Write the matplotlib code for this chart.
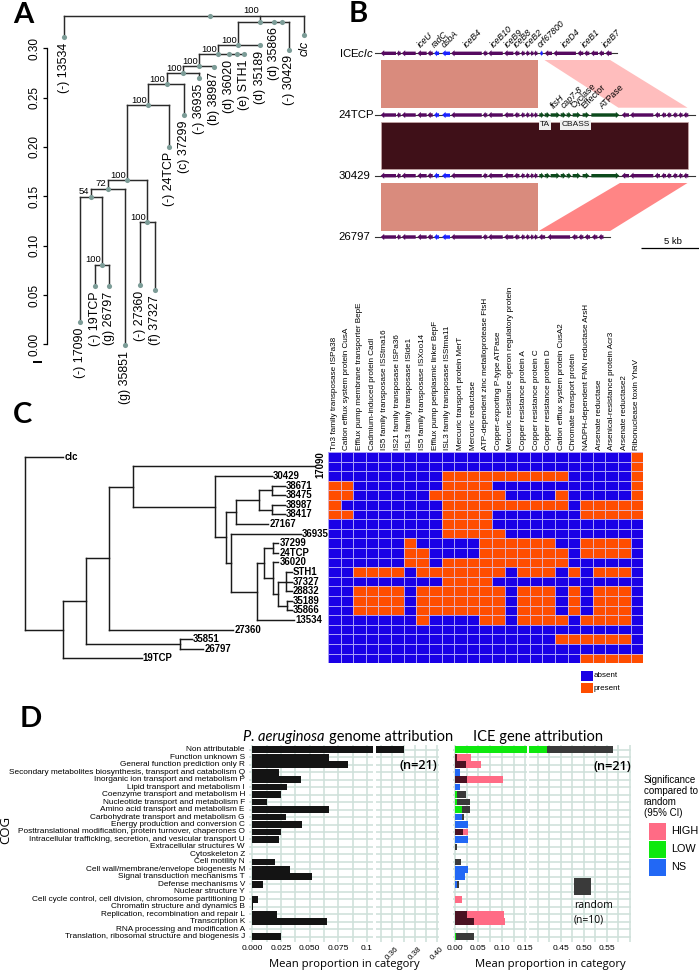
import matplotlib
matplotlib.use("Agg")
import matplotlib.pyplot as plt
from matplotlib.patches import FancyArrow, Polygon, Rectangle
from matplotlib.colors import ListedColormap
import numpy as np

plt.rcParams['font.family'] = ['Liberation Sans', 'DejaVu Sans']
plt.rcParams['mathtext.fontset'] = 'custom'
plt.rcParams['mathtext.rm'] = 'Liberation Sans'
plt.rcParams['mathtext.it'] = 'Liberation Sans:italic'
W, H = 699, 971
fig = plt.figure(figsize=(W / 100, H / 100), dpi=100, facecolor='white')


def box(x0, y0, x1, y1, **kw):
    a = fig.add_axes([x0 / W, 1 - y1 / H, (x1 - x0) / W, (y1 - y0) / H], **kw)
    a.patch.set_alpha(0)
    return a


# ---------------- DATA: panel A tree (x position, height, support, children / label)
TREE_A = (209.7, .333, None, [
    (64.3, .3111, '(-) 13534'),
    (260.0, .3266, '100', [
        (238.3, .3033, '100', [
            (218.3, .2938, '100', [
                (199.0, .2821, '100', [
                    (183.3, .2750, '100', [
                        (166.7, .2635, '100', [
                            (148.3, .2425, '100', [
                                (127.3, .1665, '100', [
                                    (108.0, .1577, '72', [
                                        (91.0, .1496, '54', [
                                            (79.7, .0226, '(-) 17090'),
                                            (102.0, .0807, '100', [
                                                (94.7, .0590, '(-) 19TCP'),
                                                (109.3, .0590, '(g) 26797')]),
                                        ]),
                                        (124.7, -.0007, '(g) 35851'),
                                    ]),
                                    (147.3, .1239, '100', [
                                        (139.7, .0599, '(-) 27360'),
                                        (154.7, .0551, '(f) 37327')]),
                                ]),
                                (169.3, .2003, '(-) 24TCP'),
                            ]),
                            (184.3, .2323, '(c) 37299'),
                        ]),
                        (199.3, .2700, '(-) 36935'),
                    ]),
                    (214.3, .2815, '(b) 38987'),
                ]),
                (229.3, .2938, '(d) 36020'),
                (237.0, .2938, ''),
                (244.3, .2938, '(e) STH1'),
            ]),
            (260.0, .3030, '(d) 35189'),
        ]),
        (274.0, .3266, '(d) 35866'),
        (282.0, .3266, ''),
        (289.3, .2986, '(-) 30429'),
    ]),
    (304.3, .3135, 'clc'),
])
A_ticks = [0.00, 0.05, 0.10, 0.15, 0.20, 0.25, 0.30]

# ---------------- DATA: panel B (kb)
B_rows = ['ICEclc', '24TCP', '30429', '26797']
core_start = [0, 1.37, 1.8, 3.14, 4.0, 4.57, 5.26, 6.03, 8.74, 9.2, 10.57, 11.43, 12.0, 12.4, 12.8, 13.11]
core_end = [1.31, 1.71, 3.0, 3.94, 4.46, 5.0, 5.94, 8.66, 9.14, 10.46, 11.37, 11.89, 12.34, 12.74, 13.09, 13.43]
core_blue = [5, 6]
ice_tail_start = [13.65, 14.05, 14.79, 16.85, 17.42, 17.99, 18.68, 19.25]
ice_tail_end = [13.88, 14.68, 16.73, 17.36, 17.88, 18.62, 19.13, 19.79]
ice_tail_blue = [0]
green_start = [13.59, 14.05, 14.56, 15.42, 15.93, 16.45, 17.3, 18.05]
green_end = [13.99, 14.5, 15.36, 15.88, 16.33, 17.13, 17.88, 20.45]
tcp_tail_start = [20.65, 21.36, 23.48, 24.05, 24.5, 25.02, 25.5, 25.93]
tcp_tail_end = [21.28, 23.36, 23.93, 24.45, 24.9, 25.42, 25.87, 26.36]
r26_tail_start = [13.54, 14.29, 16.37, 16.94, 17.46, 18.09, 18.66]
r26_tail_end = [14.09, 16.23, 16.86, 17.37, 17.94, 18.57, 19.09]
B_line_end = [20.25, 26.93, 26.93, 19.66]
ice_names = ['iceU', 'radC', 'dsbA', 'iceB4', 'iceB10', 'iceB9', 'iceB8', 'iceB2', 'orf67800', 'iceD4', 'iceB1', 'iceB7']
ice_name_kb = [3.6, 4.8, 5.6, 7.5, 9.8, 11.0, 11.75, 12.7, 13.8, 15.9, 17.6, 19.45]
tcp_names = ['ftsH', 'cap7-8', 'Cyclase', 'Effector', 'ATPase']
tcp_name_kb = [14.95, 15.85, 16.7, 17.6, 19.15]
tcp_italic = [True, True, False, False, False]

# ---------------- DATA: panel C
TREE_C = (25.0, [
    (63.3, 0, 'clc'),
    (62.7, [
        (85.7, [
            (109.0, [
                (133.3, [
                    (315.0, 1, '17090'),
                    (215.0, [
                        (271.7, 2, '30429'),
                        (225.7, [
                            (235.7, [
                                (259.3, [
                                    (272.0, [(285.0, 3, '38671'), (285.0, 4, '38475')]),
                                    (272.0, [(285.0, 5, '38987'), (285.0, 6, '38417')]),
                                ]),
                                (268.3, 7, '27167'),
                            ]),
                            (230.7, [
                                (301.0, 8, '36935'),
                                (257.3, [
                                    (264.0, [
                                        (273.3, [(278.3, 9, '37299'), (278.3, 10, '24TCP')]),
                                        (273.3, [
                                            (278.3, 11, '36020'),
                                            (278.3, [
                                                (286.0, [(291.7, 12, 'STH1'), (291.7, 13, '37327'), (291.7, 14, '28832')]),
                                                (286.7, [(291.7, 15, '35189'), (291.7, 16, '35866')]),
                                            ]),
                                        ]),
                                    ]),
                                    (294.0, 17, '13534'),
                                ]),
                            ]),
                        ]),
                    ]),
                ]),
                (233.3, 18, '27360'),
            ]),
            (180.0, [(191.7, 19, '35851'), (203.3, 20, '26797')]),
        ]),
        (141.7, 21, '19TCP'),
    ]),
])
heat_genes = ['Tn3 family transposase ISPa38', 'Cation efflux system protein CusA',
              'Efflux pump membrane transporter BepE', 'Cadmium-induced protein CadI',
              'IS5 family transposase ISStma16', 'IS21 family transposase ISPa36',
              'ISL3 family transposase ISlde1', 'IS5 family transposase ISXoo14',
              'Efflux pump periplasmic linker BepF', 'ISL3 family transposase ISStma11',
              'Mercuric transport protein MerT', 'Mercuric reductase',
              'ATP-dependent zinc metalloprotease FtsH', 'Copper-exporting P-type ATPase',
              'Mercuric resistance operon regulatory protein', 'Copper resistance protein A',
              'Copper resistance protein C', 'Copper resistance protein D',
              'Cation efflux system protein CusA2', 'Chromate transport protein',
              'NADPH-dependent FMN reductase ArsH', 'Arsenate reductase',
              'Arsenical-resistance protein Acr3', 'Arsenate reductase2', 'Ribonuclease toxin YhaV']
heat_rows = [
    "0000000000000000000000001",
    "0000000000000000000000001",
    "0000000001111111111000001",
    "1100000001111000000000001",
    "1100000011111100001000001",
    "1000000001111111111011111",
    "1100000001111000000011111",
    "0000000001111000000000000",
    "0000000001111100000000000",
    "0000001000001111110011110",
    "0000001100001111111011110",
    "0000001101111111111000000",
    "0011110111111101110101110",
    "0000000001111000000000000",
    "0011110111111101110101110",
    "0011110111111101110101110",
    "0011110111111101110101110",
    "0000000100001101111011110",
    "0000000000000000000000000",
    "0000000000000000001111110",
    "0000000000000000000000000",
    "0000000000000000000011111",
]

# ---------------- DATA: panel D
cog_labels = ['Non attributable', 'Function unknown S', 'General function prediction only R',
              'Secondary metabolites biosynthesis, transport and catabolism Q',
              'Inorganic ion transport and metabolism P', 'Lipid transport and metabolism I',
              'Coenzyme transport and metabolism H', 'Nucleotide transport and metabolism F',
              'Amino acid transport and metabolism E', 'Carbohydrate transport and metabolism G',
              'Energy production and conversion C', 'Posttranslational modification, protein turnover, chaperones O',
              'Intracellular trafficking, secretion, and vesicular transport U', 'Extracellular structures W',
              'Cytoskeleton Z', 'Cell motility N', 'Cell wall/membrane/envelope biogenesis M',
              'Signal transduction mechanisms T', 'Defense mechanisms V', 'Nuclear structure Y',
              'Cell cycle control, cell division, chromosome partitioning D', 'Chromatin structure and dynamics B',
              'Replication, recombination and repair L', 'Transcription K', 'RNA processing and modification A',
              'Translation, ribosomal structure and biogenesis J']
genome_vals = [.37, .0672, .0837, .0235, .0424, .0305, .025, .0131, .0672, .0294, .0436, .025, .0235,
               0, 0, .0195, .0326, .0523, .0096, 0, .0047, .0003, .0218, .0648, 0, .025]
ice_obs = [.4194, .0343, .0557, .0107, .1021, .01, .0036, .0043, .015, .015, .0286, .0271, .0271,
           .0005, 0, .0005, .0286, .0221, .0043, 0, .015, 0, .1043, .1071, .0005, .0021]
ice_rand = [.5643, .0036, .0229, 0, .025, 0, .0236, .0321, .0321, .0186, 0, .0179, 0,
            .0043, 0, .012, 0, 0, .0086, 0, 0, 0, .0257, .04, 0, .0407]
ice_sig = ['LOW', 'HIGH', 'HIGH', 'NS', 'HIGH', 'NS', 'LOW', 'LOW', 'LOW', 'NS', 'NS', 'HIGH', 'NS',
           'NS', 'NS', 'NS', 'NS', 'NS', 'NS', 'NS', 'HIGH', 'NS', 'HIGH', 'HIGH', 'NS', 'LOW']
sig_colors = {'HIGH': '#ff6b85', 'LOW': '#0ee90e', 'NS': '#2268f5'}

# ---------------- overlay in pixels
ov = box(0, 0, W, H)
ov.set_xlim(0, W)
ov.set_ylim(H, 0)
ov.axis('off')
for s, x, y in [('A', 13, 23), ('B', 349, 22), ('C', 13, 423), ('D', 20, 727)]:
    ov.text(x, y, s, fontsize=21, fontweight='bold', family='Lato', ha='left', va='baseline')
ov.plot([32.5, 42], [362, 362], color='black', lw=1.4, solid_capstyle='butt')

# ---------------- panel A
axA = box(0, 0, 330, 400)
axA.set_xlim(0, 330)
axA.set_ylim((344.3 - 400) / 986.7, 344.3 / 986.7)
for s in ('top', 'right', 'bottom'):
    axA.spines[s].set_visible(False)
axA.spines['left'].set_position(('data', 47.3))
axA.spines['left'].set_bounds(0, .30)
axA.spines['left'].set_linewidth(0.9)
axA.set_xticks([])
axA.set_yticks(A_ticks)
axA.set_yticklabels([f'{t:.2f}' for t in A_ticks], rotation=90, va='center', fontsize=8.5)
axA.tick_params(axis='y', length=3, width=0.9, pad=2)
dot = '#7c9c97'
lc = '#2a2a2a'


def draw_A(n):
    x, h = n[0], n[1]
    axA.plot([x], [h], 'o', ms=3.7, color=dot, mec='none', zorder=4, clip_on=False)
    if len(n) == 3:
        if n[2]:
            it = n[2] == 'clc'
            axA.annotate(n[2], (x, h), xytext=(0, -4), textcoords='offset points', rotation=90,
                         ha='center', va='top', fontsize=8.9, style='italic' if it else 'normal')
        return
    _, _, sup, kids = n
    xs = [k[0] for k in kids]
    axA.plot([min(xs), max(xs)], [h, h], color=lc, lw=1.05, solid_capstyle='projecting', zorder=2)
    for k in kids:
        axA.plot([k[0], k[0]], [h, k[1]], color=lc, lw=1.05, zorder=2)
        draw_A(k)
    if sup:
        top = h + (.0066 if x == 260.0 and h > .32 else 0)
        axA.annotate(sup, (x, top), xytext=(-1, .3), textcoords='offset points',
                     ha='right', va='bottom', fontsize=6.8)


draw_A(TREE_A)

# ---------------- panel B
axB = box(340, 0, 699, 260)
axB.set_xlim((340 - 380.7) / 11.67, (699 - 380.7) / 11.67)
axB.set_ylim(260, 0)
axB.axis('off')
row_y = [53.3, 115.0, 175.7, 237.0]
band_top = [60, 121.7, 183]
band_bot = [107.7, 169.3, 231]
core_kb = 13.46
axB.add_patch(Rectangle((0, band_top[0]), core_kb, band_bot[0] - band_top[0], fc='#d98b7d', ec='none'))
axB.add_patch(Polygon([(14.03, band_top[0]), (19.66, band_top[0]), (26.29, band_bot[0]), (20.37, band_bot[0])],
                      fc='#ffbdbd', ec='none'))
axB.add_patch(Rectangle((0, band_top[1]), 26.29, band_bot[1] - band_top[1], fc='#3f1018', ec='#c9a9a9', lw=.5))
axB.add_patch(Rectangle((0, band_top[2]), core_kb, band_bot[2] - band_top[2], fc='#d98b7d', ec='none'))
axB.add_patch(Polygon([(20.5, band_top[2]), (26.29, band_top[2]), (19.66, band_bot[2]), (13.54, band_bot[2])],
                      fc='#ff8585', ec='none'))
PUR, BLU, GRN = '#560a60', '#1b22ff', '#0c4a1c'


def gene(st, en, y, col, right=False):
    a, b = (st, en) if right else (en, st)
    L = abs(en - st)
    axB.add_patch(FancyArrow(a, y, b - a, 0, width=3.4, head_width=6.2, head_length=min(.3, L * .6),
                             length_includes_head=True, fc=col, ec='none', zorder=3))


for i, (name, y) in enumerate(zip(B_rows, row_y)):
    axB.plot([-0.45, B_line_end[i]], [y, y], color='#333333', lw=.8, zorder=1)
    for j, (s, e) in enumerate(zip(core_start, core_end)):
        gene(s, e, y, BLU if j in core_blue else PUR)
    if i == 0:
        for j, (s, e) in enumerate(zip(ice_tail_start, ice_tail_end)):
            gene(s, e, y, BLU if j in ice_tail_blue else PUR)
    elif i in (1, 2):
        for s, e in zip(green_start, green_end):
            gene(s, e, y, GRN, right=True)
        for s, e in zip(tcp_tail_start, tcp_tail_end):
            gene(s, e, y, PUR)
    else:
        for s, e in zip(r26_tail_start, r26_tail_end):
            gene(s, e, y, PUR)
lab_x = [-0.63, -0.55, -0.92, -0.92]
for i, name in enumerate(B_rows):
    t = 'ICE$\\mathit{clc}$' if name == 'ICEclc' else name
    axB.text(lab_x[i], row_y[i], t, ha='right', va='center', fontsize=8.2)
for t, x in zip(ice_names, ice_name_kb):
    axB.text(x, 49.8, t, rotation=45, rotation_mode='anchor', ha='left', va='bottom', fontsize=6.3, style='italic')
for t, x, it in zip(tcp_names, tcp_name_kb, tcp_italic):
    axB.text(x, 110.5, t, rotation=45, rotation_mode='anchor', ha='left', va='bottom', fontsize=6.3,
             style='italic' if it else 'normal')
for t, x in [('TA', 14.05), ('CBASS', 16.7)]:
    axB.text(x, 125, t, ha='center', va='center', fontsize=6, color='#111111', zorder=6,
             bbox=dict(fc='#eeeeee', ec='none', pad=.8))
axB.plot([22.3, 27.3], [248, 248], color='black', lw=.9, solid_capstyle='butt', clip_on=False)
axB.text(25.0, 246, '5 kb', ha='center', va='bottom', fontsize=6.8)

# ---------------- panel C tree
axC = box(0, 452, 326, 663.3)
axC.set_xlim(0, 326)
axC.set_ylim(21.5, -.5)
axC.axis('off')


def draw_C(n, parent_x=None):
    if len(n) == 3:
        x, y, lab = n
        if lab == '17090':
            axC.text(x + 5, y - .2, lab, rotation=90, ha='center', va='center', fontsize=6.9, fontweight='bold', clip_on=False)
        else:
            axC.text(x + 1, y, lab, ha='left', va='center', fontsize=6.9, fontweight='bold', clip_on=False)
    else:
        x, kids = n
        ys = [draw_C(k, x) for k in kids]
        axC.plot([x, x], [min(ys), max(ys)], color='#1a1a1a', lw=1.05, solid_capstyle='projecting')
        y = (ys[0] + ys[-1]) / 2
    if parent_x is not None:
        axC.plot([parent_x, x], [y, y], color='#1a1a1a', lw=1.05, solid_capstyle='projecting')
    return y


draw_C(TREE_C)

# ---------------- heatmap
axH = box(328, 452, 643.3, 663.3)
M = np.array([[int(c) for c in r] for r in heat_rows])
axH.pcolormesh(np.arange(26), np.arange(23), M, cmap=ListedColormap(['#1a00e6', '#ff4d00']),
               edgecolors=(.85, .82, 1, .75), linewidth=.6, vmin=0, vmax=1)
axH.set_ylim(22, 0)
axH.set_xlim(0, 25)
axH.xaxis.tick_top()
axH.set_xticks(np.arange(25) + .5)
axH.set_xticklabels(heat_genes, rotation=90, fontsize=5.85, ha='center', va='bottom')
axH.tick_params(axis='x', length=0, pad=1.5)
axH.set_yticks([])
for s in axH.spines.values():
    s.set_visible(False)
ov.add_patch(Rectangle((581.3, 670.7), 12, 10, fc='#1a00e6', ec='none'))
ov.add_patch(Rectangle((581.3, 683.3), 12, 9.6, fc='#ff4d00', ec='none'))
ov.text(594, 675.7, 'absent', fontsize=5.8, va='center')
ov.text(594, 688, 'present', fontsize=5.8, va='center')

# ---------------- panel D
YT, YB = 745.0, 942.0
sp = 7.48
ylims = ((YB - 749.7) / sp, (YT - 749.7) / sp)
GRID = '#cfe0da'


def dax(x0, x1, xlim, major, minor, labels, rot=0, fs=6.1):
    a = box(x0, YT, x1, YB)
    a.set_xlim(*xlim)
    a.set_ylim(*ylims)
    a.set_axisbelow(True)
    a.set_xticks(major)
    a.set_xticklabels(labels, rotation=rot, fontsize=fs, ha='center')
    a.set_xticks(minor, minor=True)
    a.set_yticks(range(26))
    a.set_yticklabels([])
    a.tick_params(which='both', length=0, pad=2.5)
    a.grid(True, which='both', color=GRID, lw=1.15)
    for s in a.spines.values():
        s.set_visible(False)
    return a


y = np.arange(26)
d1 = dax(249.0, 372.7, (-.003, .105), [0, .025, .05, .075, .1], [.0125, .0375, .0625, .0875],
         ['0.000', '0.025', '0.050', '0.075', '0.1'])
d2 = dax(375.7, 439.3, (.345, .4018), [.36, .38, .40], [.35, .37, .39],
         ['0.36', '0.38', '0.40'], rot=45, fs=5.8)
for a in (d1, d2):
    a.barh(y, genome_vals, height=.9, color='#141414', zorder=3)
d1.set_yticklabels(cog_labels, fontsize=5.95, ha='right', va='center')
d1.tick_params(axis='y', pad=2.9)

d3 = dax(453.3, 527.3, (-.0036, .1543), [0, .05, .10, .15], [.025, .075, .125],
         ['0.00', '0.05', '0.10', '0.15'])
d4 = dax(529.3, 631.0, (.3817, .6028), [.45, .50, .55], [.40, .425, .475, .525, .575, .60],
         ['0.45', '0.50', '0.55'])
for a in (d3, d4):
    a.barh(y, ice_rand, height=.9, color='#3a3a3a', zorder=3)
    a.barh(y, ice_obs, height=.9, color=[sig_colors[s] for s in ice_sig], zorder=4)
    hi = [r if s == 'HIGH' else 0 for r, s in zip(ice_rand, ice_sig)]
    a.barh(y, hi, height=.9, color='#4a1222', zorder=5)

ov.text(243, 741, 'P. aeruginosa', fontsize=10.5, family='Lato', style='italic', va='baseline', ha='left')
ov.text(329, 741, 'genome attribution', fontsize=10.5, family='Lato', va='baseline', ha='left')
ov.text(472.7, 741, 'ICE gene attribution', fontsize=10.5, family='Lato', va='baseline', ha='left')
ov.text(400, 765.5, '(n=21)', fontsize=9.2, family='Open Sans', fontweight='semibold', va='center')
ov.text(593, 766.5, '(n=21)', fontsize=9.2, family='Open Sans', fontweight='semibold', va='center')
ov.text(344, 964, 'Mean proportion in category', fontsize=8.1, family='Open Sans', ha='center', va='center')
ov.text(550, 964, 'Mean proportion in category', fontsize=8.1, family='Open Sans', ha='center', va='center')
ov.text(6, 830, 'COG', rotation=90, fontsize=9.5, family='Open Sans', ha='center', va='center')
ov.text(643.5, 780, 'Significance', fontsize=7.0, va='center')
ov.text(643.5, 791, 'compared to', fontsize=7.0, va='center')
ov.text(643.5, 802, 'random', fontsize=7.0, va='center')
ov.text(643.5, 813.5, '(95% CI)', fontsize=7.0, va='center')
for (nm, yy) in [('HIGH', 823.5), ('LOW', 841.5), ('NS', 859.5)]:
    ov.add_patch(Rectangle((649, yy), 16.5, 16.5, fc=sig_colors[nm], ec='none', zorder=6))
    ov.text(671.5, yy + 8, nm, fontsize=7.8, va='center', zorder=6)
ov.add_patch(Rectangle((574, 878), 16.5, 17, fc='#3a3a3a', ec='none', zorder=6))
ov.text(574, 906, 'random', fontsize=7.5, va='center', zorder=6, family='Open Sans')
ov.text(574, 919.5, '(n=10)', fontsize=7.5, va='center', zorder=6, family='Open Sans')
ov.set_zorder(10)

fig.savefig('out.png', dpi=100)
